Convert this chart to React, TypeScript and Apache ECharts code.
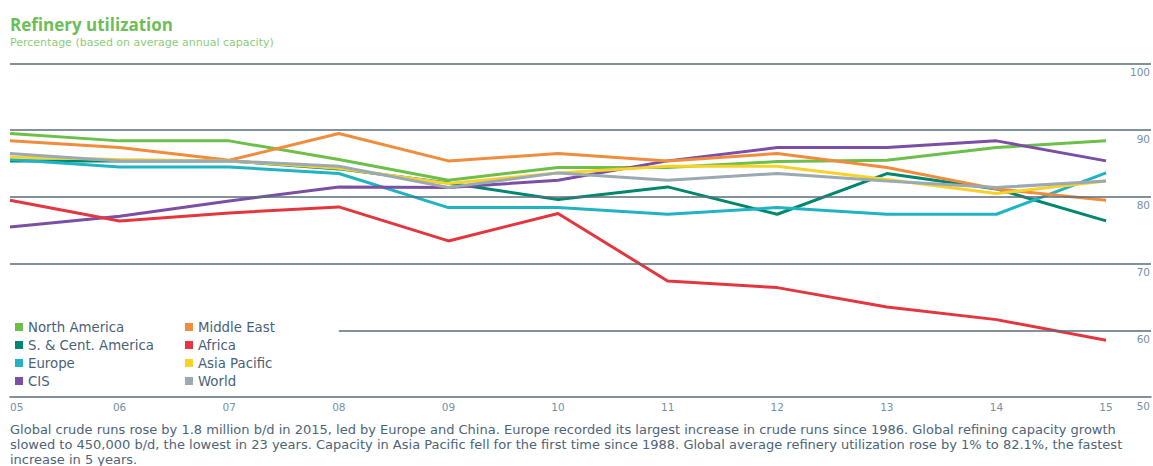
import React, { useEffect, useRef } from "react";
import * as echarts from "echarts";

const years = [2005, 2006, 2007, 2008, 2009, 2010, 2011, 2012, 2013, 2014, 2015];
const northAmerica = [89.5, 88.4, 88.4, 85.6, 82.5, 84.4, 84.4, 85.3, 85.5, 87.4, 88.4];
const sCentAmerica = [85.4, 85.4, 85.4, 84.2, 82.1, 79.6, 81.5, 77.4, 83.5, 81.2, 76.4];
const europe = [85.6, 84.5, 84.5, 83.5, 78.4, 78.4, 77.4, 78.4, 77.4, 77.4, 83.6];
const cis = [75.5, 77.1, 79.4, 81.5, 81.4, 82.5, 85.4, 87.4, 87.4, 88.4, 85.4];
const middleEast = [88.4, 87.4, 85.5, 89.5, 85.4, 86.5, 85.4, 86.5, 84.4, 81.2, 79.5];
const africa = [79.5, 76.4, 77.6, 78.5, 73.4, 77.5, 67.4, 66.4, 63.5, 61.6, 58.5];
const asiaPacific = [86.0, 85.6, 85.4, 84.3, 82.0, 83.6, 84.6, 84.6, 82.6, 80.5, 82.4];
const world = [86.5, 85.4, 85.4, 84.6, 81.4, 83.6, 82.5, 83.5, 82.4, 81.4, 82.4];

const seriesNames = [
  "North America",
  "S. & Cent. America",
  "Europe",
  "CIS",
  "Middle East",
  "Africa",
  "Asia Pacific",
  "World",
];
const seriesValues = [northAmerica, sCentAmerica, europe, cis, middleEast, africa, asiaPacific, world];
const seriesColors = ["#6cc04a", "#00876d", "#1fb3c4", "#7a4fa5", "#f08c3c", "#e4363f", "#f7d22a", "#9ba9b3"];

const gridValues = [100, 90, 80, 70];
const partialGridValue = 60;
const partialGridStart = 2008;
const xMin = 2005;
const xMax = 2015.41;

const titleText = "Refinery utilization";
const subtitleText = "Percentage (based on average annual capacity)";
const footnote = [
  "Global crude runs rose by 1.8 million b/d in 2015, led by Europe and China. Europe recorded its largest increase in crude runs since 1986. Global refining capacity growth",
  "slowed to 450,000 b/d, the lowest in 23 years. Capacity in Asia Pacific fell for the first time since 1988. Global average refinery utilization rose by 1% to 82.1%, the fastest",
  "increase in 5 years.",
];

const FONT = "'DejaVu Sans', 'Liberation Sans', Arial, sans-serif";
const TITLE_FONT = "'Open Sans', 'Liberation Sans', Arial, sans-serif";
const GRID_COLOR = "#586d7a";

export default function App() {
  const ref = useRef<HTMLDivElement>(null);

  useEffect(() => {
    document.body.style.margin = "0";
    const chart = echarts.init(ref.current!, undefined, { renderer: "svg" });

    const markLineData: any[] = gridValues.map((v) => [
      { coord: [xMin, v] },
      { coord: [xMax, v] },
    ]);
    markLineData.push([
      { coord: [partialGridStart, partialGridValue] },
      { coord: [xMax, partialGridValue] },
    ]);

    const series: any[] = [
      {
        type: "line",
        name: "grid",
        data: [],
        silent: true,
        markLine: {
          silent: true,
          symbol: ["none", "none"],
          label: { show: false },
          lineStyle: { color: GRID_COLOR, width: 1.5, type: "solid" },
          emphasis: { disabled: true },
          data: markLineData,
        },
      },
    ];
    seriesNames.forEach((name, i) => {
      series.push({
        type: "line",
        name,
        data: years.map((y, j) => [y, seriesValues[i][j]]),
        showSymbol: false,
        symbol: "none",
        lineStyle: { width: 3, color: seriesColors[i] },
        itemStyle: { color: seriesColors[i] },
      });
    });

    const legendCommon = {
      orient: "vertical",
      icon: "rect",
      itemWidth: 8,
      itemHeight: 8,
      itemGap: 4,
      padding: 0,
      selectedMode: false,
      textStyle: { fontFamily: FONT, fontSize: 13.3, color: "#4a5f7a", lineHeight: 14 },
    };

    chart.setOption({
      animation: false,
      backgroundColor: "#ffffff",
      textStyle: { fontFamily: FONT },
      title: {
        text: titleText,
        subtext: subtitleText,
        left: 10,
        top: 16,
        itemGap: 4,
        padding: 0,
        textStyle: { fontFamily: TITLE_FONT, fontSize: 17, fontWeight: "bold", color: "#6dbd58" },
        subtextStyle: { fontFamily: FONT, fontSize: 11, color: "#8ccd78" },
      },
      legend: [
        { ...legendCommon, left: 15, top: 320, data: seriesNames.slice(0, 4) },
        { ...legendCommon, left: 185, top: 320, data: seriesNames.slice(4) },
      ],
      grid: { left: 10, right: 0, top: 63.5, bottom: 69, containLabel: false },
      xAxis: {
        type: "value",
        min: xMin,
        max: xMax,
        interval: 1,
        axisLine: { show: true, lineStyle: { color: GRID_COLOR, width: 1.5 } },
        axisTick: { show: false },
        splitLine: { show: false },
        axisLabel: {
          margin: 4,
          fontSize: 10.5,
          color: "#7492a6",
          fontFamily: FONT,
          showMaxLabel: false,
          alignMinLabel: "left",
          formatter: (v: number) => (Number.isInteger(v) ? String(v % 100).padStart(2, "0") : ""),
        },
      },
      yAxis: {
        type: "value",
        position: "right",
        min: 50,
        max: 100,
        interval: 10,
        axisLine: { show: false },
        axisTick: { show: false },
        splitLine: { show: false },
        axisLabel: {
          inside: true,
          margin: 1,
          fontSize: 10.5,
          color: "#7492a6",
          fontFamily: FONT,
          verticalAlign: "top",
          padding: [3, 0, 0, 0],
        },
      },
      graphic: [
        {
          type: "text",
          left: 10,
          top: 422,
          style: {
            text: footnote.join("\n"),
            font: `13px ${FONT}`,
            lineHeight: 15,
            fill: "#4e6477",
          },
        },
      ],
      series,
    });

    return () => chart.dispose();
  }, []);

  return <div ref={ref} style={{ width: 1153, height: 466 }} />;
}
